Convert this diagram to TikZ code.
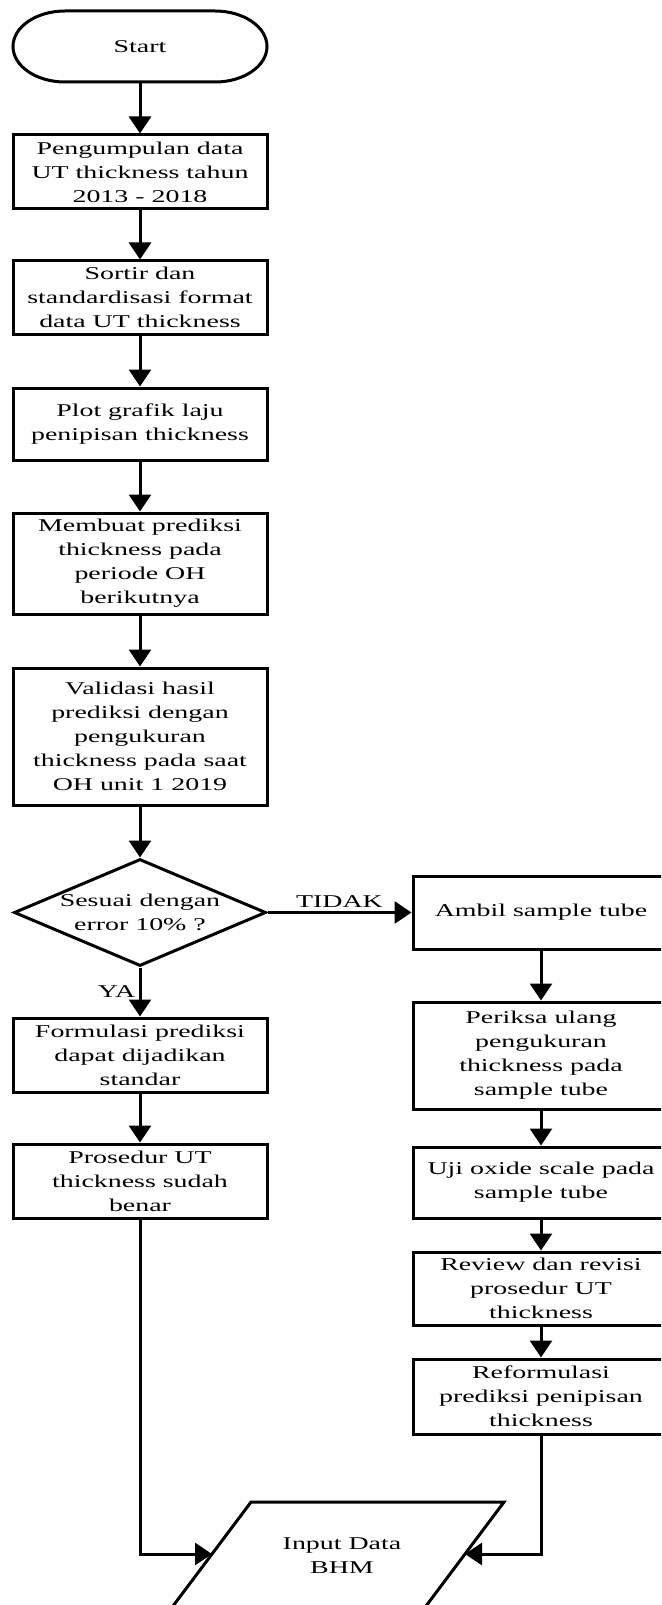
\documentclass[tikz,border=0pt]{standalone}
\usepackage{fontspec}
\setmainfont{Liberation Serif}[FakeStretch=1.55]
\usepackage{tikz}
\usetikzlibrary{shapes,arrows.meta,positioning,calc}

\begin{document}
\begin{tikzpicture}[
    x=1pt, y=1pt,
    font=\fontsize{18}{24}\selectfont,
    proc/.style={rectangle, draw, line width=3pt, minimum width=254pt, align=center, inner sep=2pt},
    term/.style={rectangle, minimum width=254pt, minimum height=71pt, outer sep=0pt},
    check/.style={diamond, draw, line width=3pt, minimum width=252pt, minimum height=107pt, aspect=2.35, align=center, inner sep=0pt},
    iotext/.style={rectangle, align=center},
    flow/.style={-{Triangle[width=22pt,length=17pt]}, line width=3pt}
]
    \useasboundingbox (0,0) rectangle (661,-1605);
    \clip (0,0) rectangle (661,-1605);

    % Start
    \node[term] (start) at (140,-46.5) {Start};
    \draw[line width=3pt] ($(start.north west)+(52,0)$) -- ($(start.north east)+(-52,0)$)
        arc[start angle=90, end angle=-90, x radius=52, y radius=35.5]
        -- ($(start.south west)+(52,0)$)
        arc[start angle=270, end angle=90, x radius=52, y radius=35.5] -- cycle;

    % Main column
    \node[proc, minimum height=74pt] (collect) at (140,-172) {Pengumpulan data\\UT thickness tahun\\2013 - 2018};
    \node[proc, minimum height=73pt] (sort) at (140,-297.5) {Sortir dan\\standardisasi format\\data UT thickness};
    \node[proc, minimum height=72pt] (plot) at (140,-424) {Plot grafik laju\\penipisan thickness};
    \node[proc, minimum height=101pt] (predict) at (140,-563.5) {Membuat prediksi\\thickness pada\\periode OH\\berikutnya};
    \node[proc, minimum height=137pt] (validate) at (140,-736.5) {Validasi hasil\\prediksi dengan\\pengukuran\\thickness pada saat\\OH unit 1 2019};

    % Decision
    \node[check] (match) at (140,-912.5) {Sesuai dengan\\error 10\% ?};

    % YA branch
    \node[proc, minimum height=74pt] (formula) at (140,-1055) {Formulasi prediksi\\dapat dijadikan\\standar};
    \node[proc, minimum height=74pt] (procok) at (140,-1181) {Prosedur UT\\thickness sudah\\benar};

    % TIDAK branch
    \node[proc, minimum width=256pt, minimum height=73pt] (sample) at (541,-912.5) {Ambil sample tube};
    \node[proc, minimum width=256pt, minimum height=107pt] (recheck) at (541,-1055.5) {Periksa ulang\\pengukuran\\thickness pada\\sample tube};
    \node[proc, minimum width=256pt, minimum height=71pt] (oxide) at (541,-1182.5) {Uji oxide scale pada\\sample tube};
    \node[proc, minimum width=256pt, minimum height=73pt] (review) at (541,-1288.5) {Review dan revisi\\prosedur UT\\thickness};
    \node[proc, minimum width=256pt, minimum height=75pt] (reform) at (541,-1396.5) {Reformulasi\\prediksi penipisan\\thickness};

    % Input data (parallelogram)
    \node[iotext] (input) at (342,-1556) {Input Data\\BHM};
    \draw[line width=3pt] (251,-1502) -- (504,-1502) -- (423,-1610) -- (170,-1610) -- cycle;
    \coordinate (inleft) at (212,-1554);
    \coordinate (inright) at (465,-1554);

    % Edges
    \draw[flow] (start) -- (collect);
    \draw[flow] (collect) -- (sort);
    \draw[flow] (sort) -- (plot);
    \draw[flow] (plot) -- (predict);
    \draw[flow] (predict) -- (validate);
    \draw[flow] (validate) -- (match);
    \draw[flow] (match) -- node[midway, left] {YA} (formula);
    \draw[flow] (match) -- node[midway, above] {TIDAK} (sample);
    \draw[flow] (formula) -- (procok);
    \draw[flow] (sample) -- (recheck);
    \draw[flow] (recheck) -- (oxide);
    \draw[flow] (oxide) -- (review);
    \draw[flow] (review) -- (reform);
    \draw[flow] (procok.south) |- (inleft);
    \draw[flow] (reform.south) |- (inright);
\end{tikzpicture}
\end{document}
